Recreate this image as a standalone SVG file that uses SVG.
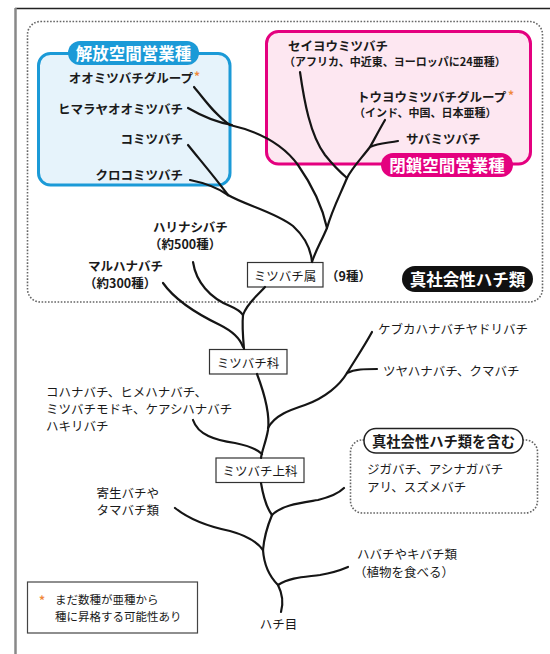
<svg xmlns="http://www.w3.org/2000/svg" width="550" height="654" viewBox="0 0 550 654">
<style>
text{font-family:"Noto Sans CJK JP","Noto Sans",sans-serif;fill:#1a1a1a;dominant-baseline:central}
.b{font-weight:bold;font-size:12.5px}
.s{font-weight:bold;font-size:11px}
.r{font-size:12.5px}
.w{font-weight:bold;font-size:16.5px;fill:#fff}
.ast{fill:#f0883a;font-weight:bold;font-size:12px}
.br{fill:none;stroke:#151515;stroke-width:2.2;stroke-linecap:round;stroke-linejoin:round}
.nb{fill:#fff;stroke:#333;stroke-width:1.2}
.dot{fill:none;stroke:#666;stroke-width:1.6;stroke-dasharray:1.6 1.6}
</style>
<rect width="550" height="654" fill="#fff"/>
<g id="frame">
<line x1="15" y1="8.5" x2="550" y2="8.5" stroke="#222" stroke-width="1.5"/>
<line x1="15.5" y1="8" x2="15.5" y2="654" stroke="#888" stroke-width="2.5"/>
</g>
<g id="eusocial-area">
<rect class="dot" x="27.5" y="21.5" width="515" height="280.5" rx="13"/>
<rect x="402" y="266" width="131" height="26" rx="13" fill="#111"/>
<text class="w" x="467.5" y="279" text-anchor="middle">真社会性ハチ類</text>
</g>
<g id="open-nesting">
<rect x="38.5" y="53.5" width="191.5" height="131.5" rx="12" fill="#e6f3fb" stroke="#1b9ad7" stroke-width="3"/>
<rect x="68" y="41" width="131" height="24" rx="12" fill="#1b9ad7"/>
<text class="w" x="133.5" y="53" text-anchor="middle">解放空間営業種</text>
<text class="b" x="193" y="77" text-anchor="end">オオミツバチグループ</text>
<text class="ast" x="194" y="75">*</text>
<text class="b" x="183" y="108" text-anchor="end">ヒマラヤオオミツバチ</text>
<text class="b" x="183" y="138" text-anchor="end">コミツバチ</text>
<text class="b" x="183" y="174" text-anchor="end">クロコミツバチ</text>
</g>
<g id="closed-nesting">
<rect x="266.5" y="31.5" width="264" height="132.5" rx="12" fill="#fde7f1" stroke="#e4007f" stroke-width="3"/>
<rect x="381" y="153" width="132" height="24" rx="12" fill="#e4007f"/>
<text class="w" x="447" y="165" text-anchor="middle">閉鎖空間営業種</text>
<text class="b" x="288" y="45.5">セイヨウミツバチ</text>
<text class="s" x="284" y="61">（アフリカ、中近東、ヨーロッパに24亜種）</text>
<text class="b" x="357" y="96.5">トウヨウミツバチグループ</text>
<text class="ast" x="508" y="94.5">*</text>
<text class="s" x="354" y="111.5">（インド、中国、日本亜種）</text>
<text class="b" x="406" y="138">サバミツバチ</text>
</g>
<g id="stingless">
<text class="b" x="153" y="226.5">ハリナシバチ</text>
<text class="b" x="149" y="243">（約500種）</text>
</g>
<g id="bumblebee">
<text class="b" x="88" y="265.5">マルハナバチ</text>
<text class="b" x="84" y="282">（約300種）</text>
</g>
<g id="apis">
<rect class="nb" x="247.5" y="262.5" width="75.5" height="24.5"/>
<text class="r" x="285" y="275" text-anchor="middle">ミツバチ属</text>
<text class="b" x="326" y="275">（9種）</text>
</g>
<g id="apidae">
<rect class="nb" x="209.5" y="349.5" width="77.5" height="24.5"/>
<text class="r" x="248" y="362" text-anchor="middle">ミツバチ科</text>
</g>
<g id="apoidea">
<rect class="nb" x="216" y="458" width="88" height="24.5"/>
<text class="r" x="260" y="470.5" text-anchor="middle">ミツバチ上科</text>
</g>
<g id="kebuka">
<text class="r" x="378" y="328">ケブカハナバチヤドリバチ</text>
</g>
<g id="tsuya">
<text class="r" x="383" y="370">ツヤハナバチ、クマバチ</text>
</g>
<g id="kohana">
<text class="r" x="46" y="391">コハナバチ、ヒメハナバチ、</text>
<text class="r" x="46" y="408">ミツバチモドキ、ケアシハナバチ</text>
<text class="r" x="46" y="425">ハキリバチ</text>
</g>
<g id="wasps">
<rect class="dot" x="350.5" y="440" width="187" height="73" rx="12"/>
<rect x="364" y="428.5" width="159" height="24.5" rx="12" fill="#fff" stroke="#222" stroke-width="1.5"/>
<text class="b" x="443.5" y="440.5" text-anchor="middle" style="font-size:14.3px">真社会性ハチ類を含む</text>
<text class="r" x="367" y="468">ジガバチ、アシナガバチ</text>
<text class="r" x="367" y="486">アリ、スズメバチ</text>
</g>
<g id="parasitic">
<text class="r" x="159" y="492" text-anchor="end">寄生バチや</text>
<text class="r" x="159" y="509" text-anchor="end">タマバチ類</text>
</g>
<g id="sawfly">
<text class="r" x="357" y="553">ハバチやキバチ類</text>
<text class="r" x="354" y="571">（植物を食べる）</text>
</g>
<g id="hymenoptera">
<text class="r" x="278.5" y="623" text-anchor="middle">ハチ目</text>
</g>
<g id="note">
<rect x="27.5" y="582" width="170" height="51" fill="#fff" stroke="#444" stroke-width="1.2"/>
<text class="ast" x="39" y="599">*</text>
<text class="r" x="55" y="599" style="font-size:11.5px">まだ数種が亜種から</text>
<text class="r" x="55" y="616" style="font-size:11.5px">種に昇格する可能性あり</text>
</g>
<g id="connectors">
<path class="br" d="M194,87 C205,100 215,115 230,125"/>
<path class="br" d="M188,108 C200,115 215,122 232,125"/>
<path class="br" d="M230,125 C252,130 280,140 298,165 C312,185 322,205 327,228"/>
<path class="br" d="M188,145 C200,160 213,175 228,195"/>
<path class="br" d="M190,180 C205,183 218,188 228,195"/>
<path class="br" d="M228,195 C245,205 275,212 293,226 C305,237 311,250 312,262"/>
<path class="br" d="M300,72 C304,100 310,135 325,155 C333,165 340,172 347,178"/>
<path class="br" d="M385,120 C378,132 374,140 370,147 C360,160 352,168 347,178"/>
<path class="br" d="M398,141 C388,143 378,143 370,147"/>
<path class="br" d="M347,178 C340,195 332,210 327,228 C321,242 315,252 312,262"/>
<path class="br" d="M265,287 C258,295 247,303 243,315"/>
<path class="br" d="M193,262 C196,282 210,298 230,306 C237,309 241,312 243,315"/>
<path class="br" d="M243,315 C242,325 243,338 244,349"/>
<path class="br" d="M163,283 C175,300 195,313 220,325 C232,331 240,338 243,347"/>
<path class="br" d="M257,374 C265,395 270,415 268,430 C266,442 262,450 261,458"/>
<path class="br" d="M193,420 C198,435 215,440 235,443 C250,446 258,450 262,454"/>
<path class="br" d="M268,428 C275,415 290,410 305,405 C325,398 340,385 347,373"/>
<path class="br" d="M347,373 C355,360 365,345 372,332"/>
<path class="br" d="M347,373 C355,369 365,369 377,369"/>
<path class="br" d="M261,483 C263,495 266,507 272,515"/>
<path class="br" d="M272,515 C282,505 300,503 318,500 C330,497 338,494 344,488"/>
<path class="br" d="M272,515 C267,527 264,538 263,550"/>
<path class="br" d="M175,508 C190,520 210,527 230,531 C248,536 258,543 263,550"/>
<path class="br" d="M263,550 C264,565 270,577 278,585"/>
<path class="br" d="M278,585 C290,577 305,577 320,575 C332,573 341,570 348,567"/>
<path class="br" d="M278,585 C283,595 283,605 281,612"/>
</g>
</svg>
